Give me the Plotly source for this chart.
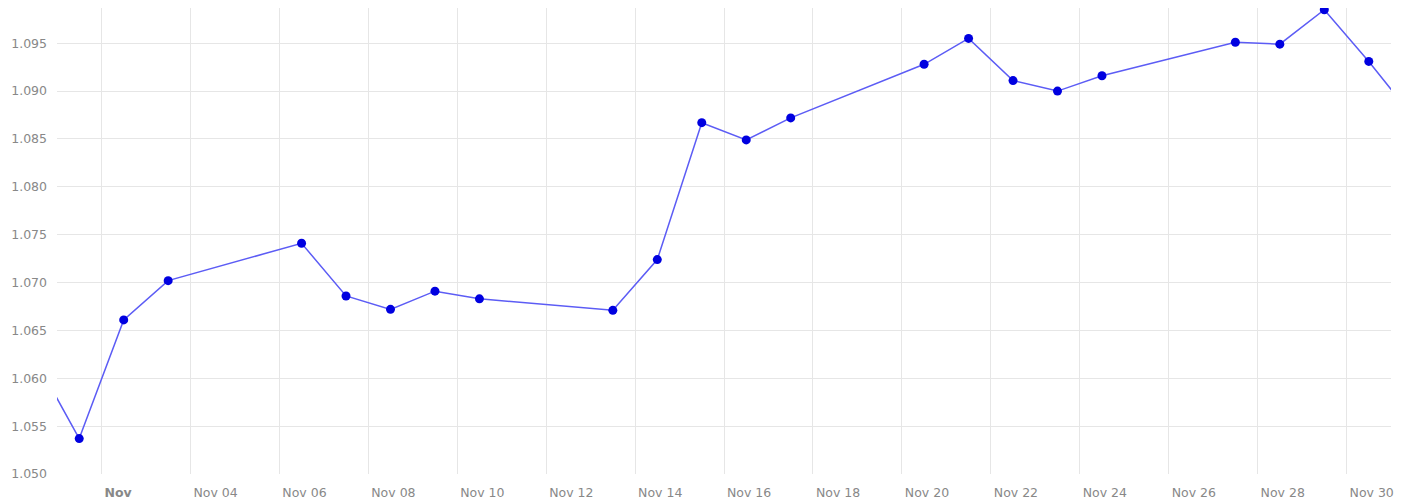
import plotly.graph_objects as go

# daily values (points sit at midday of each trading day)
dates = ['2023-10-31', '2023-11-01', '2023-11-02', '2023-11-03', '2023-11-06',
         '2023-11-07', '2023-11-08', '2023-11-09', '2023-11-10', '2023-11-13',
         '2023-11-14', '2023-11-15', '2023-11-16', '2023-11-17', '2023-11-20',
         '2023-11-21', '2023-11-22', '2023-11-23', '2023-11-24', '2023-11-27',
         '2023-11-28', '2023-11-29', '2023-11-30', '2023-12-01']
values = [1.0621, 1.0537, 1.0661, 1.0702, 1.0741,
          1.0686, 1.0672, 1.0691, 1.0683, 1.0671,
          1.0724, 1.0867, 1.0849, 1.0872, 1.0928,
          1.0955, 1.0911, 1.0900, 1.0916, 1.0951,
          1.0949, 1.0985, 1.0931, 1.0873]

tick_dates = ['2023-11-%02d' % d for d in range(2, 31, 2)]
tick_labels = ['<b>Nov</b>'] + ['Nov %02d' % d for d in range(4, 31, 2)]

x = [d + ' 12:00' for d in dates]

fig = go.Figure()
# the line runs past both edges of the plot
fig.add_trace(go.Scatter(
    x=x, y=values, mode='lines',
    line=dict(color='#5c5cf5', width=1.5),
    hoverinfo='skip',
))
# markers only for the visible month, not clipped at the top
fig.add_trace(go.Scatter(
    x=x[1:-1], y=values[1:-1], mode='markers',
    marker=dict(color='#0000e0', size=9),
    cliponaxis=False,
))

font = dict(family='DejaVu Sans, Verdana, sans-serif', size=12.5, color='#888888')

fig.update_layout(
    width=1404, height=504,
    margin=dict(l=49, r=21, t=0, b=38),
    plot_bgcolor='white', paper_bgcolor='white',
    showlegend=False,
    font=font,
)
fig.update_xaxes(
    range=['2023-11-01 00:00', '2023-12-01 00:00'],
    tickvals=tick_dates, ticktext=tick_labels,
    ticklabelposition='outside right',
    ticklabelshift=3,
    showgrid=True, gridcolor='#e6e6e6', gridwidth=1,
    zeroline=False, showline=False, ticks='',
    ticklabelstandoff=9, tickfont=font,
)
fig.update_yaxes(
    range=[1.050, 1.09868],
    tickvals=[1.050, 1.055, 1.060, 1.065, 1.070, 1.075, 1.080, 1.085, 1.090, 1.095],
    tickformat='.3f',
    showgrid=True, gridcolor='#e6e6e6', gridwidth=1,
    zeroline=False, showline=False, ticks='',
    ticklabelstandoff=9, tickfont=font,
)

fig.write_html('out.html')
